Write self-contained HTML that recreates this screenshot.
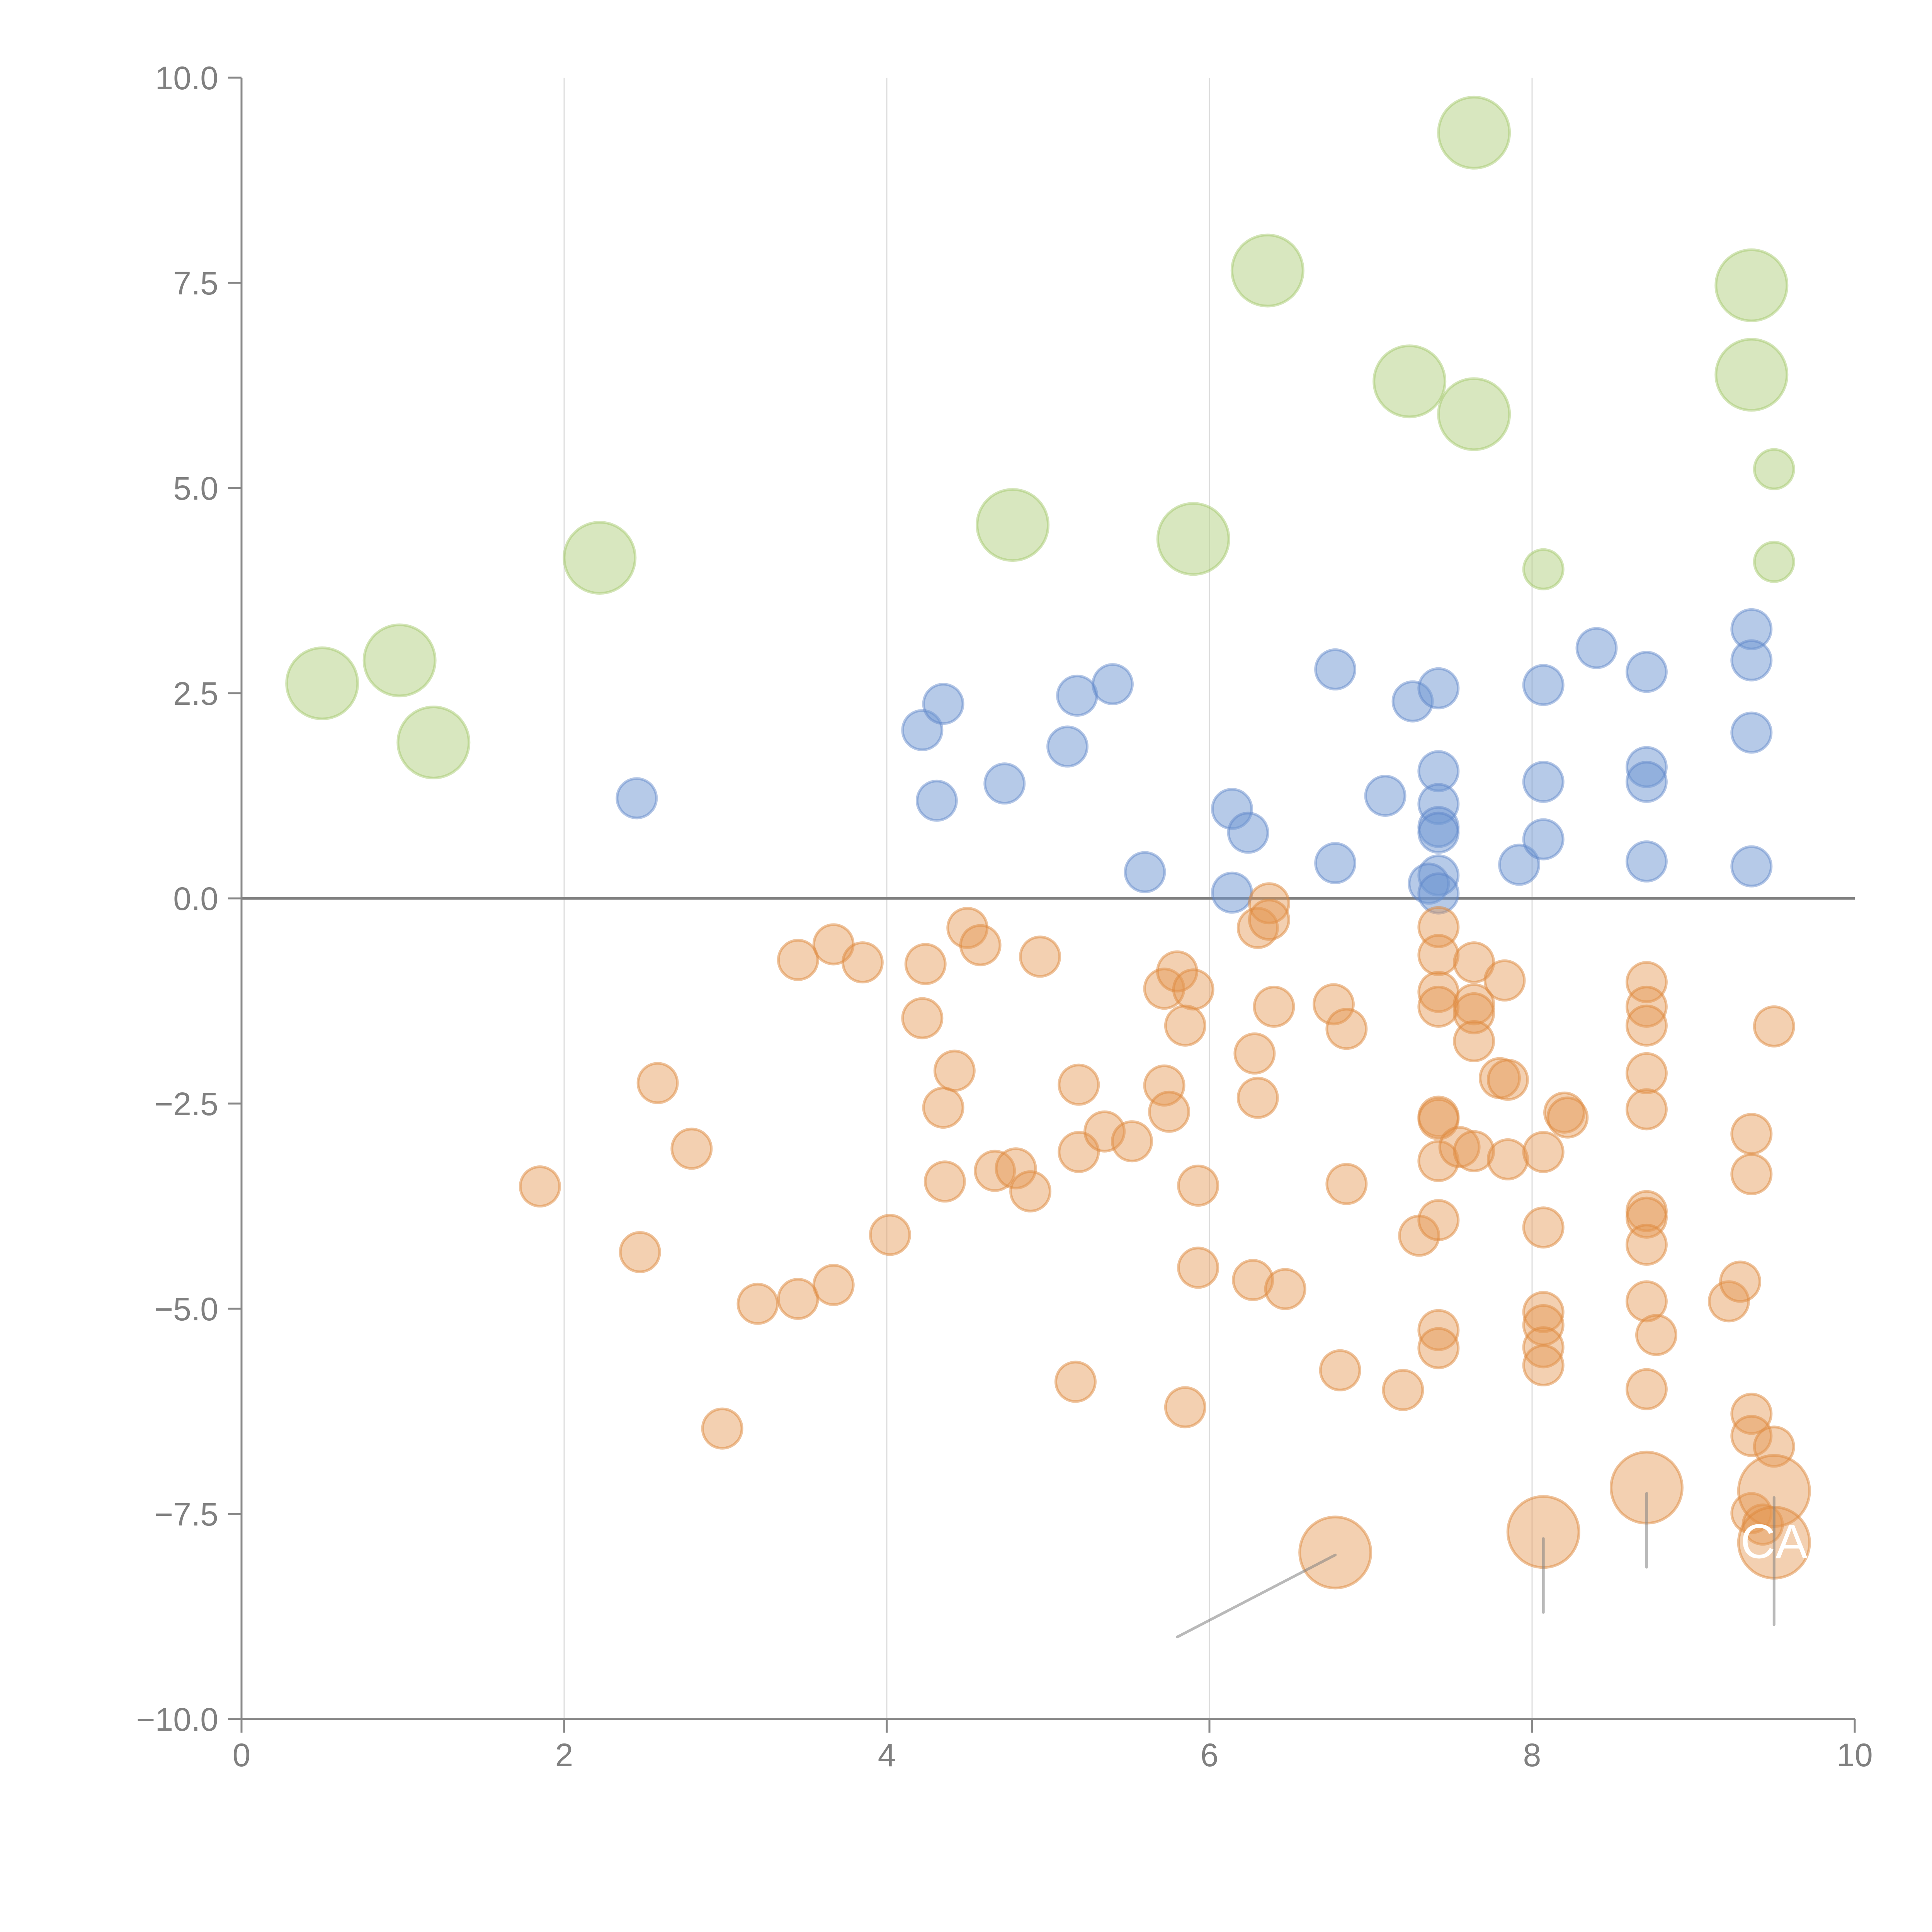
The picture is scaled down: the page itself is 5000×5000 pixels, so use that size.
<!DOCTYPE html>
<html><head><meta charset="utf-8"><style>
html,body{margin:0;padding:0;background:#fff;}
svg{display:block;font-family:"Liberation Sans",sans-serif;}
</style></head><body>
<svg id="chart" width="5000" height="5000" viewBox="0 0 5000 5000"></svg>
<script>
const xTicks=[0,2,4,6,8,10];
const yTicks=[-10,-7.5,-5,-2.5,0,2.5,5,7.5,10];
const yTickLabels=["\u221210.0","\u22127.5","\u22125.0","\u22122.5","0.0","2.5","5.0","7.5","10.0"];
const greenX=[0.5,0.98,1.19,2.22,4.78,5.9,6.36,7.24,7.64,7.64,9.36,9.36,9.5,9.5,8.07];
const greenY=[2.62,2.9,1.9,4.15,4.55,4.38,7.65,6.3,9.33,5.9,7.47,6.38,5.23,4.1,4.01];
const greenS=[3,3,3,3,3,3,3,3,3,3,3,3,1,1,1];
const blueX=[2.45,4.22,4.35,4.31,4.73,5.12,5.18,5.4,5.6,6.14,6.24,6.14,6.78,6.78,7.09,7.26,7.42,7.42,7.42,7.42,7.42,7.42,7.36,7.42,7.92,8.07,8.07,8.07,8.4,8.71,8.71,8.71,8.71,9.36,9.36,9.36,9.36];
const blueY=[1.22,2.05,2.37,1.19,1.4,1.85,2.47,2.61,0.32,1.09,0.8,0.07,2.79,0.43,1.25,2.4,2.56,1.55,1.15,0.87,0.8,0.28,0.18,0.06,0.41,2.6,1.42,0.72,3.05,2.76,1.6,1.42,0.45,3.28,2.9,2.02,0.39];
const orangeX=[1.85,2.47,2.58,2.79,2.98,3.2,3.45,3.45,3.67,3.67,3.85,4.02,4.22,4.24,4.35,4.36,4.42,4.5,4.58,4.67,4.8,4.89,4.95,5.17,5.19,5.19,5.35,5.52,5.72,5.72,5.75,5.8,5.9,5.85,5.85,5.93,5.93,6.27,6.28,6.3,6.3,6.37,6.37,6.4,6.47,6.77,6.81,6.85,6.85,7.2,7.3,7.42,7.42,7.42,7.42,7.42,7.42,7.42,7.42,7.42,7.42,7.55,7.64,7.64,7.64,7.64,7.64,7.8,7.85,7.83,7.85,8.07,8.07,8.07,8.07,8.07,8.07,8.2,8.22,8.71,8.71,8.71,8.71,8.71,8.71,8.71,8.71,8.71,8.71,8.77,9.22,9.29,9.36,9.36,9.36,9.36,9.36,9.5,9.5,9.43,6.78,8.07,8.71,9.5,9.5];
const orangeY=[-3.51,-4.31,-2.25,-3.05,-6.46,-4.94,-0.75,-4.88,-0.56,-4.71,-0.78,-4.1,-1.46,-0.8,-2.55,-3.45,-2.1,-0.36,-0.57,-3.32,-3.29,-3.57,-0.71,-5.89,-2.27,-3.09,-2.84,-2.96,-1.1,-2.28,-2.6,-0.89,-1.11,-1.55,-6.2,-3.5,-4.5,-4.65,-1.89,-2.43,-0.36,-0.06,-0.26,-1.32,-4.76,-1.29,-5.75,-1.59,-3.48,-5.99,-4.11,-0.35,-0.69,-1.14,-1.32,-2.66,-2.69,-3.2,-3.92,-5.26,-5.48,-3.03,-0.78,-1.29,-1.4,-1.74,-3.08,-2.19,-2.21,-1.0,-3.18,-3.09,-4.01,-5.04,-5.2,-5.47,-5.69,-2.61,-2.67,-1.02,-1.32,-1.55,-2.13,-2.57,-3.81,-3.89,-4.22,-4.91,-5.98,-5.32,-4.91,-4.67,-2.87,-3.36,-6.28,-6.55,-7.49,-1.56,-6.68,-7.63,-7.97,-7.72,-7.18,-7.22,-7.85];
const orangeS=orangeY.map((v,i)=>i>=orangeY.length-5?3:1);
const leaderFromX=[5.8,8.07,8.71,9.5];
const leaderFromY=[-9.0,-8.7,-8.15,-8.85];
const leaderToX=[6.78,8.07,8.71,9.5];
const leaderToY=[-8.0,-7.8,-7.25,-7.3];

const NS="http://www.w3.org/2000/svg";
const svg=document.getElementById('chart');
const X=v=>625+v*417.5;
const Y=v=>2325-v*212.4;
const R=s=>s===3?92:(s===2?70:51);
function mk(tag,attrs,parent){const e=document.createElementNS(NS,tag);for(const k in attrs)e.setAttribute(k,attrs[k]);(parent||svg).appendChild(e);return e;}

[2,4,6,8].forEach(v=>{
  const g=mk('line',{x1:X(v),x2:X(v),y1:Y(10),y2:Y(-10),stroke:'#dcdcdc','stroke-width':3});
  
  
});
const z=mk('line',{x1:X(0),x2:X(10),y1:Y(0),y2:Y(0),stroke:'#808080','stroke-width':7});



function series(xs,ys,ss,fill,stroke,name){
  const g=mk('g',{});
  
  
  xs.forEach((x,i)=>{
    const c=mk('circle',{cx:X(x),cy:Y(ys[i]),r:R(ss?ss[i]:1),fill:fill,stroke:stroke,'stroke-width':7},g);
    
    
  });
}
series(greenX,greenY,greenS,'rgba(178,208,128,0.5)','rgba(160,198,100,0.45)','green');
series(blueX,blueY,null,'rgba(110,150,210,0.5)','rgba(90,130,200,0.45)','blue');
series(orangeX,orangeY,orangeS,'rgba(228,150,82,0.45)','rgba(222,135,60,0.5)','orange');

leaderFromX.forEach((x,i)=>{
  const l=mk('line',{x1:X(x),y1:Y(leaderFromY[i]),x2:X(leaderToX[i]),y2:Y(leaderToY[i]),stroke:'rgba(128,128,128,0.55)','stroke-width':7,'stroke-linecap':'round'});
  
  
});
const ca=mk('text',{x:X(9.5),y:Y(-7.85)+40,'font-size':125,fill:'#fff','text-anchor':'middle'});
ca.textContent='CA';



const ax=mk('path',{d:`M${X(0)},${Y(10)}V${Y(-10)}H${X(10)}`,fill:'none',stroke:'#888','stroke-width':5});


xTicks.forEach(v=>{
  const t=mk('line',{x1:X(v),x2:X(v),y1:Y(-10),y2:Y(-10)+35,stroke:'#888','stroke-width':5});
  
  
  const l=mk('text',{x:X(v),y:Y(-10)+122,'font-size':84,fill:'#808080','text-anchor':'middle'});
  l.textContent=String(v);
  
  
});
yTicks.forEach((v,i)=>{
  const t=mk('line',{x1:X(0)-35,x2:X(0),y1:Y(v),y2:Y(v),stroke:'#888','stroke-width':5});
  
  
  const l=mk('text',{x:X(0)-60,y:Y(v)+30,'font-size':84,fill:'#808080','text-anchor':'end'});
  l.textContent=yTickLabels[i];
  
  
});
</script>
</body></html>
